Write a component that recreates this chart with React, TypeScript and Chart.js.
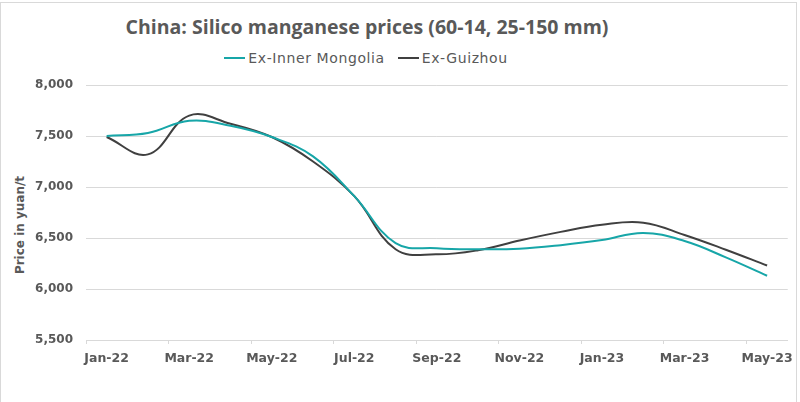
import React, { useEffect, useRef } from 'react';
import { Chart, registerables } from 'chart.js';

Chart.register(...registerables);

const months = [
  'Jan-22', 'Feb-22', 'Mar-22', 'Apr-22', 'May-22', 'Jun-22', 'Jul-22', 'Aug-22',
  'Sep-22', 'Oct-22', 'Nov-22', 'Dec-22', 'Jan-23', 'Feb-23', 'Mar-23', 'Apr-23', 'May-23',
];
const innerMongolia = [7500, 7530, 7650, 7600, 7490, 7300, 6910, 6450, 6400, 6390, 6395, 6430, 6480, 6550, 6470, 6310, 6130];
const guizhou = [7490, 7320, 7700, 7620, 7490, 7250, 6910, 6390, 6340, 6380, 6475, 6560, 6630, 6650, 6530, 6385, 6230];
const yMin = 5500;
const yMax = 8000;
const yStep = 500;

const TEAL = '#17A6A8';
const DARK = '#404040';
const GRID = '#D9D9D9';
const TEXT = '#595959';
const FONT = "'DejaVu Sans', sans-serif";
const TITLE_FONT = "'Open Sans', sans-serif";

export default function App() {
  const ref = useRef<HTMLCanvasElement>(null);

  useEffect(() => {
    document.body.style.margin = '0';
    const chart = new Chart(ref.current as HTMLCanvasElement, {
      type: 'line',
      data: {
        labels: months,
        datasets: [
          { label: 'Ex-Inner Mongolia', data: innerMongolia, borderColor: TEAL, backgroundColor: TEAL, borderWidth: 2, pointRadius: 0, tension: 0.4, fill: false },
          { label: 'Ex-Guizhou', data: guizhou, borderColor: DARK, backgroundColor: DARK, borderWidth: 2, pointRadius: 0, tension: 0.4, fill: false },
        ],
      },
      options: {
        animation: false,
        responsive: false,
        layout: { padding: { left: 0, right: 10, top: 85, bottom: 0 } },
        plugins: {
          legend: { display: false },
          title: { display: false },
          tooltip: { enabled: false },
        },
        scales: {
          x: {
            offset: true,
            grid: {
              offset: true,
              drawOnChartArea: false,
              drawTicks: true,
              tickLength: 4,
              tickColor: (ctx: any) => (ctx.index % 2 === 0 ? GRID : 'rgba(0,0,0,0)'),
            },
            border: { display: true, color: GRID },
            ticks: {
              autoSkip: false,
              maxRotation: 0,
              padding: 7,
              color: TEXT,
              font: { family: FONT, size: 12.5, weight: 'bold' },
              callback: (_v: any, i: number) => (i % 2 === 0 ? months[i] : ''),
            },
            afterFit: (s: any) => { s.height = 62; },
          },
          y: {
            min: yMin,
            max: yMax,
            ticks: {
              stepSize: yStep,
              padding: 13,
              color: TEXT,
              font: { family: FONT, size: 12, weight: 'bold' },
              callback: (v: any) => Number(v).toLocaleString('en-US'),
            },
            grid: { color: GRID, drawTicks: false },
            border: { display: false },
            afterFit: (s: any) => { s.width = 86; },
          },
        },
      },
    });
    return () => chart.destroy();
  }, []);

  return (
    <div style={{ position: 'relative', width: 800, height: 402, background: '#fff', overflow: 'hidden', fontFamily: FONT }}>
      <div style={{ position: 'absolute', left: 0, top: 2, width: 797, height: 420, border: '1px solid #D9D9D9', boxSizing: 'border-box', pointerEvents: 'none' }} />
      <div style={{ position: 'absolute', left: 67, width: 600, top: 13, textAlign: 'center', fontFamily: TITLE_FONT, fontSize: 19.5, fontWeight: 700, color: TEXT, lineHeight: '28px', whiteSpace: 'nowrap' }}>
        China: Silico manganese prices (60-14, 25-150 mm)
      </div>
      <div style={{ position: 'absolute', left: 66, width: 600, top: 49, display: 'flex', justifyContent: 'center', alignItems: 'center', fontSize: 14, letterSpacing: '0.6px', color: TEXT, lineHeight: '18px' }}>
        <span style={{ display: 'inline-block', width: 21, height: 2, background: TEAL, marginRight: 3 }} />
        <span>Ex-Inner Mongolia</span>
        <span style={{ display: 'inline-block', width: 21, height: 2, background: DARK, marginLeft: 13, marginRight: 3 }} />
        <span>Ex-Guizhou</span>
      </div>
      <div style={{ position: 'absolute', left: 20, top: 225, width: 0, height: 0 }}>
        <div style={{ position: 'absolute', transform: 'translate(-50%, -50%) rotate(-90deg)', whiteSpace: 'nowrap', fontSize: 12, fontWeight: 700, color: TEXT }}>
          Price in yuan/t
        </div>
      </div>
      <canvas ref={ref} width={800} height={402} style={{ position: 'absolute', left: 0, top: 0, display: 'block' }} />
    </div>
  );
}
